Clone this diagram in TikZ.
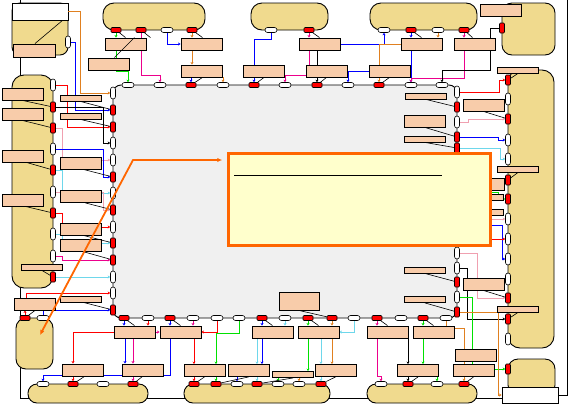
\documentclass[tikz,border=0pt]{standalone}
\usetikzlibrary{arrows.meta}
\pgfdeclarelayer{bg}
\pgfdeclarelayer{wires}
\pgfsetlayers{bg,wires,main}

\definecolor{partfill}{RGB}{240,218,142}
\definecolor{salmon}{RGB}{248,204,170}
\definecolor{coregray}{RGB}{240,240,240}
\definecolor{noteyellow}{RGB}{255,255,204}
\definecolor{noteorange}{RGB}{255,102,0}
\definecolor{worange}{RGB}{224,128,32}
\definecolor{wcyan}{RGB}{110,215,235}
\definecolor{wpink}{RGB}{240,160,176}
\definecolor{wgreen}{RGB}{0,225,0}

\tikzset{
  partbody/.style={draw, line width=0.9pt, fill=partfill, inner sep=0},
  lbl/.style={draw, line width=0.9pt, fill=salmon, inner sep=0, minimum width=41pt, minimum height=12pt},
  lblbar/.style={lbl, minimum height=6pt},
  pinr/.style={draw, line width=0.6pt, fill=red, inner sep=0, minimum width=10pt, minimum height=5pt, rounded corners=1pt},
  pinrv/.style={pinr, minimum width=5pt, minimum height=10pt},
  pinw/.style={draw, line width=0.6pt, fill=white, inner sep=0, minimum width=12pt, minimum height=5pt, rounded corners=2.5pt},
  pinwv/.style={pinw, minimum width=5pt, minimum height=12pt},
  wire/.style={line width=0.9pt, -{Stealth[length=2.5pt,width=3pt]}},
  lead/.style={line width=0.6pt},
}

\begin{document}
\begin{tikzpicture}[x=1pt,y=-1pt]
\useasboundingbox (0,0) rectangle (569,405);

% units and frame
\begin{pgfonlayer}{bg}
\coordinate (lefttop) at (20,0);
\coordinate (busend) at (502,398);
\coordinate (topedge) at (567,0);
\draw[line width=0.9pt] (lefttop) |- (busend);
\node[partbody, fill=coregray, rounded corners=8pt, minimum width=344pt, minimum height=233pt] (core) at (285,201.5) {};
\node[partbody, rounded corners=8pt, minimum width=56pt, minimum height=52pt] (tlbody) at (40,29) {};
\node[partbody, fill=white, minimum width=56pt, minimum height=17pt] (tlhead) at (40,11.5) {};
\node[partbody, rounded corners=11pt, minimum width=102pt, minimum height=27pt] (pilla) at (154,16.5) {};
\node[partbody, rounded corners=11pt, minimum width=77pt, minimum height=27pt] (pillb) at (289.5,16.5) {};
\node[partbody, rounded corners=11pt, minimum width=107pt, minimum height=27pt] (pillc) at (423.5,16.5) {};
\node[partbody, rounded corners=10pt, minimum width=53pt, minimum height=52pt] (trbody) at (528.5,29) {};
\node[partbody, rounded corners=12pt, minimum width=46pt, minimum height=278pt] (rtall) at (531,209) {};
\node[partbody, rounded corners=10pt, minimum width=47pt, minimum height=36pt] (rlbody) at (531.5,377) {};
\node[partbody, fill=white, minimum width=56pt, minimum height=16pt] (rlfoot) at (530,395) {};
\node[partbody, rounded corners=12pt, minimum width=41pt, minimum height=213pt] (ltall) at (32.5,181.5) {};
\node[partbody, rounded corners=10pt, minimum width=37pt, minimum height=51pt] (llbody) at (34.5,343.5) {};
\node[partbody, rounded corners=9pt, minimum width=120pt, minimum height=19pt] (qpilla) at (88,393.5) {};
\node[partbody, rounded corners=9pt, minimum width=146pt, minimum height=19pt] (qpillb) at (257,393.5) {};
\node[partbody, rounded corners=9pt, minimum width=110pt, minimum height=19pt] (qpillc) at (422,393.5) {};
\end{pgfonlayer}

% labels
\foreach \x/\y/\nm in {125.5/44/t1, 108.5/64/t2, 201.5/44/t3, 201.5/71/t4, 264/71/t5,
  319.5/44/t6, 326.5/71/t7, 389.5/71/t8, 421.5/44/t9, 474.5/44/t10,
  22.5/94/l1, 22.5/114/l2, 22.5/156/l3, 22.5/200/l4,
  80.5/163/m3, 80.5/196.5/m4, 80.5/229/m5, 80.5/245/m6,
  425/121/n2, 483.5/105/n4, 483.5/284/n7, 483.5/184/h1,
  134.5/332/b1, 180.5/332/b2, 272.5/332/b3, 318.5/332/b4, 387.5/332/b5, 433.5/332/b6,
  82.5/370/c1, 142.5/370/c2, 204.5/370.5/c3, 248.5/370.5/c4, 335.5/370.5/c6,
  418/370.5/c7, 473.5/370.5/c8, 475.5/355/c9, 35/304/llx, 501/10/trx}
  \node[lbl] (\nm) at (\x,\y) {};
\foreach \x/\y/\nm in {42/267/l5, 80.5/98/m1, 80.5/116/m2, 80.5/299/m7,
  426/96/n1, 425/139/n3, 425/270/n5, 425/299.5/n6, 518/70/k1, 518/169/k2, 518/309/k3,
  293/374.5/c5, 482.5/197/h2, 482.5/212/h3}
  \node[lblbar] (\nm) at (\x,\y) {};
\node[lbl, minimum width=42pt, minimum height=13pt] (tlx) at (34,50.5) {};
\node[lbl, minimum width=40pt, minimum height=18pt] (g) at (299,301) {};

% pins
\foreach \x/\k [count=\s] in {128/pinw,160/pinw,191/pinr,223/pinw,254/pinr,285/pinw,317/pinr,348/pinw,379/pinr,411/pinw,442/pinw}
  \node[\k] (gt\s) at (\x,85) {};
\foreach \x/\k [count=\s] in {124/pinr,148/pinw,170/pinr,193/pinw,217/pinw,239/pinw,262/pinr,285/pinw,308/pinr,332/pinr,354/pinw,377/pinr,401/pinw,423/pinr,446/pinw}
  \node[\k] (gb\s) at (\x,318) {};
\foreach \y/\k [count=\s] in {93/pinwv,110/pinrv,127/pinrv,143/pinwv,160/pinwv,177/pinrv,193/pinwv,210/pinrv,227/pinwv,243/pinrv,260/pinrv,277/pinwv,293/pinwv,310/pinrv}
  \node[\k] (gl\s) at (113,\y) {};
\foreach \y/\k [count=\s] in {92/pinwv,107/pinrv,122/pinwv,137/pinrv,148/pinrv,253/pinwv,268/pinwv,282/pinrv,297/pinwv,312/pinrv}
  \node[\k] (gr\s) at (457,\y) {};
\foreach \y/\k [count=\s] in {85/pinwv,107/pinrv,128/pinrv,149/pinwv,170/pinrv,192/pinwv,213/pinrv,234/pinwv,256/pinwv,277/pinrv}
  \node[\k] (lb\s) at (53,\y) {};
\foreach \y/\k [count=\s] in {80/pinrv,99/pinwv,119/pinrv,140/pinwv,159/pinwv,180/pinrv,199/pinrv,219/pinwv,239/pinwv,259/pinwv,279/pinwv,298/pinrv,319/pinrv,339/pinwv}
  \node[\k] (rb\s) at (508,\y) {};
\foreach \x/\k [count=\s] in {116/pinr,141/pinr,167/pinw,192/pinr}
  \node[\k] (pa\s) at (\x,30) {};
\foreach \x/\k [count=\s] in {271/pinw,309/pinr}
  \node[\k] (pb\s) at (\x,30) {};
\foreach \x/\k [count=\s] in {384/pinw,411/pinr,438/pinw,464/pinr}
  \node[\k] (pc\s) at (\x,30) {};
\foreach \x/\k [count=\s] in {43/pinw,73/pinr,103/pinw,133/pinr}
  \node[\k] (qa\s) at (\x,384) {};
\foreach \x/\k [count=\s] in {194/pinr,216/pinr,237/pinw,257/pinr,278/pinw,299/pinw,321/pinr}
  \node[\k] (qb\s) at (\x,384) {};
\foreach \x/\k [count=\s] in {381/pinw,408/pinr,437/pinw,464/pinr}
  \node[\k] (qc\s) at (\x,384) {};
\node[pinwv] (tl1) at (68,42) {};
\node[pinrv] (tr1) at (502,28) {};
\node[pinrv] (rl1) at (508,369) {};
\node[pinr] (ll1) at (25,318) {};
\node[pinw] (ll2) at (43,318) {};
% pins hidden under the note
\coordinate (hg) at (457,192);
\coordinate (hp) at (457,219);
\coordinate (hb) at (457,225);
\coordinate (hr) at (457,239);

\begin{pgfonlayer}{wires}
% left
\draw[wire,worange] (tlhead.east) -- ++(12,0) |- (gl1);
\draw[wire,blue] (tl1) -- ++(7,0) |- (gl2);
\draw[wire,red] (lb1) -- ++(14,0) |- (gl3);
\draw[wire] (lb2) -- ++(50,0) |- (gl4);
\draw[wire,wpink] (lb3) -- ++(9,0) |- (gl5);
\draw[wire,blue] (lb4) -- ++(50,0) |- (gl6);
\draw[wire,wcyan] (lb5) -- ++(9,0) |- (gl7);
\draw[wire,wpink] (lb6) -- ++(50,0) |- (gl8);
\draw[wire,red] (lb7) -- ++(9,0) |- (gl9);
\draw[wire,wcyan] (lb8) -- ++(9,0) |- (gl10);
\draw[wire,magenta] (lb9) -- ++(9,0) |- (gl11);
\draw[wire,wcyan] (lb10) -- (gl12);
\draw[wire,red] ([xshift=-9pt]llx.north) |- (gl13);
\draw[wire,blue] (ll2) |- (gl14);
\draw[wire,red] (ll1) -- (ll1 |- llx.south);
% top
\draw[wire,wgreen] (pa1) -- (pa1 |- t1.north);
\draw[wire,wgreen] (t1.south -| pa1) -- ++(0,21) -| (gt1);
\draw[wire,magenta] (pa2) -- ++(0,45) -| (gt2);
\draw[wire,blue] (pa3) |- (t3.west);
\draw[wire,worange] (pa4) -- (pa4 |- t3.north);
\draw[wire,worange] (t3.south -| pa4) -- (t4.north -| pa4);
\draw[wire,blue] (t4.south -| gt3) -- (gt3);
\draw[wire,worange] (t4.south -| gt4) -- (gt4);
\draw[wire,blue] (pb1) -- ++(0,9) -| (gt5);
\draw[wire,magenta] (pb2) -- (pb2 |- t6.north);
\draw[wire,magenta] (t6.south -| pb2) -- ++(0,25) -| (gt6);
\draw[wire] (t6.south -| gt7) -- (gt7);
\draw[wire,blue] (t8.west) -| (gt8);
\draw[wire,blue] (t6.east) -| (pc1);
\draw[wire,blue] (pc2) -- (pc2 |- t9.north);
\draw[wire,worange] (pc3) -- (pc3 |- t9.north);
\draw[wire,worange] (t9.west) -| (gt9);
\draw[wire,blue] (t9.south -| gt10) -- (gt10);
\draw[wire,magenta] (pc4) -- (pc4 |- t10.north);
\draw[wire,magenta] (t10.south -| pc4) -- ++(0,28) -| (gt10);
\draw[wire] (tr1) -- ++(-12,0) -- ++(0,42) -| (gt11);
% right
\draw[wire,red] (gr1) -- ++(42,0) |- (rb1);
\draw[wire,wpink] (gr3) -- ++(11,0) |- (rb3);
\draw[wire,blue] (gr4) -- ++(41,0) |- (rb4);
\draw[wire,wcyan] (gr5) -- ++(43,0) |- (rb5);
\draw[wire,wgreen] (hg) -- ++(41,0) |- (rb7);
\draw[wire,wpink] (hp) -- (rb8);
\draw[wire,blue] (hb) -- ++(45,0) |- (rb10);
\draw[wire,red] (hr) -- (rb9);
\draw[wire,wpink] (gr6) -- ++(20,0) |- (rb12);
\draw[wire] (gr7) -- ++(10,0) |- (rb13);
\draw[wire,wgreen] (gr9) -- ++(15,0) |- (rl1);
\draw[wire,worange] (gr10) -- ++(41,0) |- (rlfoot.west);
\draw[line width=0.9pt] (rlfoot.east) -| (topedge);
% bottom
\draw[wire,blue] (gb1) -- (gb1 |- b1.north);
\draw[wire,red] (gb2) -- (gb2 |- b1.north);
\draw[wire,red] (b1.west) -| (qa2 |- c1.north);
\draw[wire,red] (c1.south -| qa2) -- (qa2);
\draw[wire,blue] ([xshift=-9.5pt]b1.south) -- ([xshift=-9.5pt]b1.south |- c2.north);
\draw[wire,magenta] (b1.south -| qa4) -- (qa4 |- c2.north);
\draw[wire,magenta] (c2.south -| qa4) -- (qa4);
\draw[wire,blue] (gb3) -- (gb3 |- b2.north);
\draw[wire,blue] (b2.south -| gb3) -- ++(0,37) -| (qa1);
\draw[wire,magenta] (b1.east) -- (b2.west);
\draw[wire,magenta] (gb4) -- (gb4 |- b2.north);
\draw[wire,red] (gb5) |- (b2.east);
\draw[wire,red] (b2.south -| qb1) -- (qb1 |- c3.north);
\draw[wire,red] (c3.south -| qb1) -- (qb1);
\draw[wire,wgreen] (gb6) -- ++(0,15) -| (qb2 |- c3.north);
\draw[wire,wgreen] (c3.south -| qb2) -- (qb2);
\draw[wire,blue] (gb7) -- (gb7 |- b3.north);
\draw[wire,blue] (b3.south -| gb7) -- (gb7 |- c4.north);
\draw[wire,wcyan] (b3.south -| qb4) -- (qb4 |- c4.north);
\draw[wire,wcyan] (c4.south -| qb4) -- (qb4);
\draw[wire,blue] (c4.south -| qb3) -- (qb3);
\draw[wire,wcyan] (gb8) -- (gb8 |- b3.north);
\draw[wire,wgreen] (gb9) -- (gb9 |- b4.north);
\draw[wire,wgreen] (b4.south -| gb9) -- (gb9 |- c5.north);
\draw[wire,wgreen] (c5.south -| qb5) -- (qb5);
\draw[wire,worange] (c5.south -| qb6) -- (qb6);
\draw[wire,wcyan] (b4.south -| qb7) -- (qb7 |- c6.north);
\draw[wire,wcyan] (c6.south -| qb7) -- (qb7);
\draw[wire,worange] (gb10) -- (gb10 |- b4.north);
\draw[wire,worange] (b4.south -| gb10) -- (gb10 |- c6.north);
\draw[wire,wcyan] (gb11) |- (b4.east);
\draw[wire,magenta] (gb12) -- (gb12 |- b5.north);
\draw[wire,magenta] (b5.south -| gb12) -- ++(0,38) -| (qc1);
\draw[wire] (b5.south -| qc2) -- (qc2 |- c7.north);
\draw[wire] (c7.south -| qc2) -- (qc2);
\draw[wire,wgreen] (gb14) -- (gb14 |- b6.north);
\draw[wire,wgreen] (b6.south -| gb14) -- (gb14 |- c7.north);
\draw[wire,wgreen] (c7.south -| qc3) -- (qc3);
\draw[wire,worange] (gb15) -- ++(0,10) -| (qc4);
\end{pgfonlayer}

% leader lines
\draw[lead] ([xshift=1pt]tlx.north) -- ([xshift=-6pt]tlhead.south east);
\draw[lead] (l1.south) -- (lb2);
\draw[lead] (l2.south) -- (lb3);
\draw[lead] ([xshift=4pt]l3.south) -- (lb5);
\draw[lead] ([xshift=3pt]l4.south) -- (lb7);
\draw[lead] (l5.south) -- (lb10);
\draw[lead] (llx.south) -- (ll1);
\draw[lead] (m1.south) -- (gl2);
\draw[lead] (m2.south) -- (gl3);
\draw[lead] ([xshift=3pt]m3.south) -- (gl6);
\draw[lead] ([xshift=5pt]m4.south) -- (gl8);
\draw[lead] ([xshift=3pt]m5.south) -- (gl10);
\draw[lead] ([xshift=2pt]m6.south) -- (gl11);
\draw[lead] ([xshift=3pt]m7.south) -- (gl14);
\draw[lead] (pa1) -- (t1.north);
\draw[lead] (pa2) -- ([xshift=4pt]t1.north east);
\draw[lead] ([xshift=-12pt]t1.north east) -- ([xshift=6pt]t2.north);
\draw[lead] (pa4) -- ([xshift=1pt]t3.north);
\draw[lead] (pb2) -- (t6.north);
\draw[lead] (pc2) -- (t9.north);
\draw[lead] (pc4) -- ([xshift=-2pt]t10.north);
\draw[lead] (gt3) -- ([xshift=1pt]t4.south);
\draw[lead] (gt5) -- (t5.south);
\draw[lead] (gt7) -- (t7.south);
\draw[lead] (gt9) -- (t8.south);
\draw[lead] (n1.south) -- (gr2);
\draw[lead] (n2.south) -- (gr4);
\draw[lead] (n3.south) -- (gr5);
\draw[lead] (n5.south) -- (gr8);
\draw[lead] (n6.south) -- (gr10);
\draw[lead] (n4.south) -- (rb3);
\draw[lead] (n7.south) -- (rb12);
\draw[lead] (k1.south) -- (rb1);
\draw[lead] (k2.south) -- (rb6);
\draw[lead] (k3.south) -- (rb13);
\draw[lead] (gb1) -- (b1.north);
\draw[lead] (gb3) -- (b2.north);
\draw[lead] (gb7) -- (b3.north);
\draw[lead] (gb9) -- (b4.north);
\draw[lead] (gb12) -- (b5.north);
\draw[lead] (gb14) -- (b6.north);
\draw[lead] (g.south) -- (gb10);
\draw[lead] (qa2) -- ([xshift=2pt]c1.south);
\draw[lead] (qa4) -- (c2.south);
\draw[lead] (qb1) -- (c3.south);
\draw[lead] (qb2) -- (c4.south);
\draw[lead] (qb4) -- (c5.south);
\draw[lead] (qb7) -- (c6.south);
\draw[lead] (qc2) -- (c7.south);
\draw[lead] (qc4) -- (c8.south);

% note and callout
\node[draw=noteorange, line width=2.5pt, fill=noteyellow, inner sep=0, minimum width=262pt, minimum height=92pt] (note) at (359.5,199.5) {};
\draw[line width=0.9pt] ([shift={(7,23)}]note.north west) -- ([shift={(215,23)}]note.north west);
\coordinate (tipstart) at (40,335);
\coordinate (elbow) at (133,160);
\draw[noteorange, line width=1.8pt, {Latex[length=5pt,width=4.5pt]}-{Latex[length=5pt,width=4.5pt]}, shorten >=5pt]
  (tipstart) -- (elbow) -- (note.west |- elbow);

\end{tikzpicture}
\end{document}
